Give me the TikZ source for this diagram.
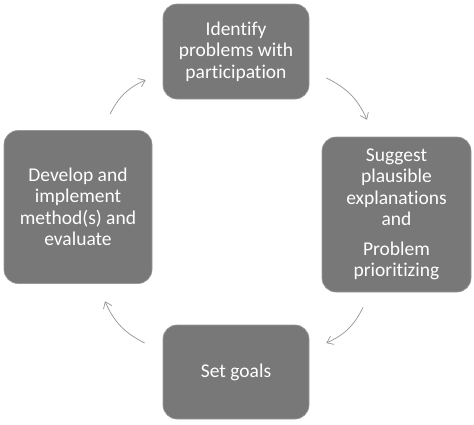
\documentclass[tikz,border=0pt]{standalone}
\usepackage{fontspec}
\setmainfont[Ligatures=NoCommon]{Carlito}
\usepackage{tikz}
\usetikzlibrary{arrows.meta}

\begin{document}
\begin{tikzpicture}[x=1pt, y=-1pt,
	every node/.style={rectangle, rounded corners=14pt, fill=black!53, draw=black!40, line width=0.6pt, text=white, align=center, inner sep=0pt, font=\fontsize{19.5}{21.5}\selectfont},
	flow/.style={draw=black!42, line width=0.7pt, -{Straight Barb[length=6pt, width=9pt]}}]
	\useasboundingbox (0,0) rectangle (474,424);
	\node[minimum width=146pt, minimum height=95pt](identify) at (236,51.5) {Identify\\problems with\\participation};
	\node[minimum width=149pt, minimum height=155pt](suggest) at (396.5,214.5) {Suggest\\plausible\\explanations\\and\\[8pt]Problem\\prioritizing};
	\node[minimum width=146pt, minimum height=94pt](goals) at (236,372) {Set goals};
	\node[minimum width=148pt, minimum height=153pt](develop) at (78,207) {Develop and\\implement\\method(s) and\\evaluate};
	\draw[flow] ([xshift=32pt, yshift=16pt]develop.north) to[bend left=20] ([xshift=-17pt, yshift=-28.5pt]identify.west);
    \draw[flow] ([xshift=17pt, yshift=-26.5pt]identify.east) to[bend left=20] ([xshift=-29.5pt, yshift=17pt]suggest.north);
    \draw[flow] ([xshift=-33.5pt, yshift=-15pt]suggest.south) to[bend left=20] ([xshift=17pt, yshift=29pt]goals.east);
    \draw[flow] ([xshift=-18pt, yshift=29pt]goals.west) to[bend left=20] ([xshift=27pt, yshift=-17.5pt]develop.south);
\end{tikzpicture}
\end{document}
